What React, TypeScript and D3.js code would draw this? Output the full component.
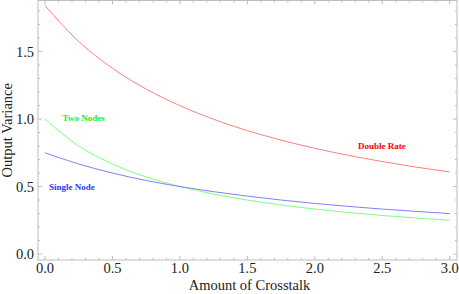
import React from "react";
import * as d3 from "d3";

const xs = [0, 0.25, 0.5, 0.75, 1, 1.25, 1.5, 1.75, 2, 2.25, 2.5, 2.75, 3];
const doubleRate = [1.84, 1.574, 1.376, 1.222, 1.099, 0.998, 0.914, 0.844, 0.783, 0.731, 0.685, 0.644, 0.608];
const twoNodes = [1.0, 0.8, 0.667, 0.571, 0.5, 0.444, 0.4, 0.364, 0.333, 0.308, 0.286, 0.267, 0.25];
const singleNode = [0.75, 0.667, 0.6, 0.545, 0.5, 0.462, 0.429, 0.4, 0.375, 0.353, 0.333, 0.316, 0.3];
const xTickLabels = ["0.0", "0.5", "1.0", "1.5", "2.0", "2.5", "3.0"];
const yTickLabels = ["0.0", "0.5", "1.0", "1.5"];

const W = 459, H = 294;
const L = 38, R = 457, T = 0.5, B = 260;

export default function App() {
  const x = d3.scaleLinear().domain([-0.052, 3.054]).range([L, R]);
  const y = d3.scaleLinear().domain([-0.044, 1.878]).range([B, T]);
  const line = d3.line<[number, number]>().x(d => x(d[0])).y(d => y(d[1])).curve(d3.curveMonotoneX);
  const series = [
    { vals: doubleRate, color: "#ff8080" },
    { vals: twoNodes, color: "#80ff80" },
    { vals: singleNode, color: "#8080ff" },
  ];
  const xMinor = d3.range(0, 31).map(i => i / 10);
  const yMinor = d3.range(0, 19).map(i => i / 10);
  const frame = "#bdbdbd";
  const font = "'Liberation Serif', 'Times New Roman', serif";
  const fs = 14.5;
  return (
    <svg width={W} height={H} style={{ position: "absolute", left: 0, top: 0, background: "#fff" }}>
      {series.map((s, i) => (
        <path key={i} d={line(xs.map((v, j) => [v, s.vals[j]]) as [number, number][]) || ""} fill="none" stroke={s.color} strokeWidth={1} />
      ))}
      <rect x={L} y={T} width={R - L} height={B - T} fill="none" stroke={frame} strokeWidth={1} />
      {xMinor.map((v, i) => {
        const major = Math.abs(v * 2 - Math.round(v * 2)) < 1e-6;
        const len = major ? 4 : 2;
        return (
          <g key={"xm" + i}>
            <line x1={x(v)} x2={x(v)} y1={B} y2={B - len} stroke={frame} />
            <line x1={x(v)} x2={x(v)} y1={T} y2={T + len} stroke={frame} />
          </g>
        );
      })}
      {yMinor.map((v, i) => {
        const major = Math.abs(v * 2 - Math.round(v * 2)) < 1e-6;
        const len = major ? 4 : 2;
        return (
          <g key={"ym" + i}>
            <line x1={L} x2={L + len} y1={y(v)} y2={y(v)} stroke={frame} />
            <line x1={R} x2={R - len} y1={y(v)} y2={y(v)} stroke={frame} />
          </g>
        );
      })}
      {xTickLabels.map((t, i) => (
        <text key={"xt" + i} x={x(+t)} y={273} textAnchor="middle" fontFamily={font} fontSize={fs} fill="#222">{t}</text>
      ))}
      {yTickLabels.map((t, i) => (
        <text key={"yt" + i} x={34} y={y(+t) + 5} textAnchor="end" fontFamily={font} fontSize={fs} fill="#222">{t}</text>
      ))}
      <text x={(L + R) / 2 + 2} y={290} textAnchor="middle" fontFamily={font} fontSize={fs} fill="#222">Amount of Crosstalk</text>
      <text transform={`translate(12, ${(T + B) / 2}) rotate(-90)`} textAnchor="middle" fontFamily={font} fontSize={fs} fill="#222">Output Variance</text>
      <text x={x(0.13)} y={y(1.01) + 3} fontFamily={font} fontSize={9} fontWeight="bold" fill="#22ee22">Two Nodes</text>
      <text x={x(0.03)} y={y(0.5) + 3} fontFamily={font} fontSize={9} fontWeight="bold" fill="#3333ff">Single Node</text>
      <text x={x(2.32)} y={y(0.8) + 3} fontFamily={font} fontSize={9} fontWeight="bold" fill="#ff0000">Double Rate</text>
    </svg>
  );
}
